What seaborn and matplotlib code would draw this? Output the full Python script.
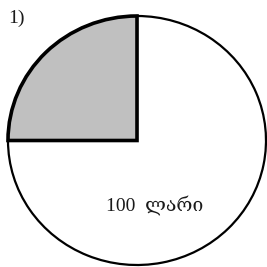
import matplotlib
matplotlib.use("Agg")
import matplotlib.pyplot as plt
import seaborn as sns

# share of the circle: shaded quarter, rest
shares = [25, 75]
colors = ["#c0c0c0", "white"]
label_text = "100  ლარი"
panel_label = "1)"

sns.set_theme(style="white")
plt.rcParams["font.family"] = ["Liberation Serif", "DejaVu Serif"]

fig = plt.figure(figsize=(2.67, 2.67), dpi=100)
W = H = 267
ax = fig.add_axes([8 / W, (H - 265) / H, 258 / W, 249 / H])

wedges, _ = ax.pie(shares, colors=colors, startangle=90, counterclock=True,
                   radius=1.0, wedgeprops=dict(edgecolor="black", linewidth=0))
ax.set_aspect("auto")
ax.set_xlim(-1, 1)
ax.set_ylim(-1, 1)

# outline of the circle (thin) and the shaded sector (thick)
wedges[1].set_linewidth(1.6)
wedges[1].set_edgecolor("black")
wedges[0].set_linewidth(2.6)
wedges[0].set_edgecolor("black")
wedges[0].set_zorder(3)
for w in wedges:
    w.set_clip_on(False)
ax.axis("off")

ax.text(0.14, -0.52, label_text, ha="center", va="center", fontsize=14,
        color="#1a1a1a")
fig.text(8 / W, 1 - 18 / H, panel_label, ha="left", va="center",
         fontsize=14, color="#1a1a1a")

fig.savefig("out.png", dpi=100)
